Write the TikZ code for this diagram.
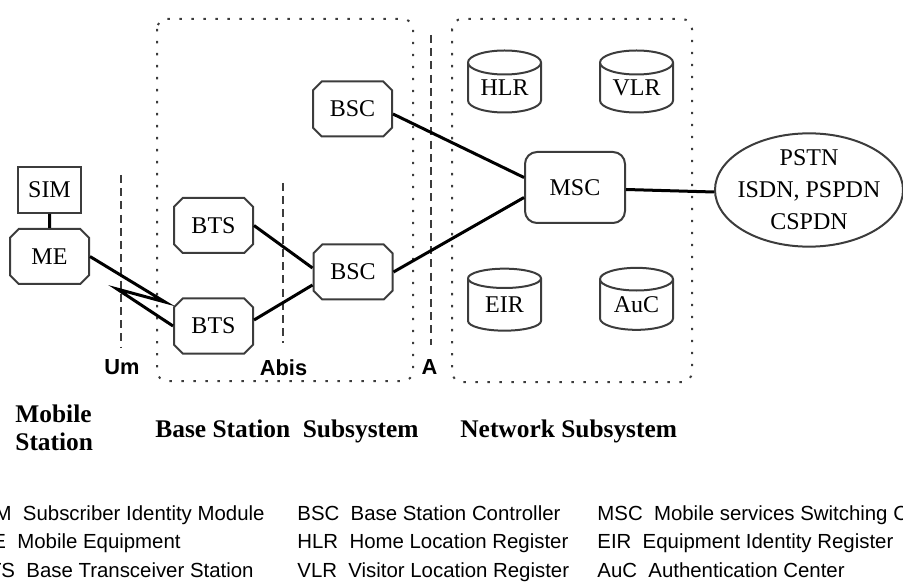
\documentclass[tikz,border=0pt]{standalone}
\usepackage{fontspec}
\setmainfont{Liberation Serif}
\setsansfont{Liberation Sans}
\usepackage{tikz}
\usetikzlibrary{shapes.misc, shapes.geometric}
\definecolor{gsmGray}{HTML}{3C3C3C}
\definecolor{gsmBlack}{HTML}{000000}
\newcommand{\unitfont}{\fontsize{12}{16}\selectfont}
\newcommand{\keyfont}{\sffamily\fontsize{10.2}{12}\selectfont}
\newcommand{\headfont}{\bfseries\fontsize{12.7}{14}\selectfont}

\begin{document}
\begin{tikzpicture}[
  x=0.5pt, y=-0.5pt,
  unit/.style={
    chamfered rectangle, chamfered rectangle xsep=2.2pt, chamfered rectangle ysep=2.2pt,
    draw=gsmGray, line width=1pt,
    minimum width=39.5pt, minimum height=27.5pt, inner sep=0pt,
    font=\unitfont
  },
  card/.style={
    rectangle, draw=gsmGray, line width=1pt,
    minimum width=31.5pt, minimum height=23pt, inner sep=0pt,
    font=\unitfont
  },
  switch/.style={
    rectangle, rounded corners=6pt, draw=gsmGray, line width=1pt,
    minimum width=50pt, minimum height=35.5pt, inner sep=0pt,
    font=\unitfont
  },
  db/.style={
    cylinder, shape border rotate=90, aspect=0.5,
    draw=gsmGray, line width=1pt,
    minimum width=36.5pt, minimum height=31pt, inner sep=0pt,
    font=\unitfont
  },
  cloud/.style={
    ellipse, draw=gsmGray, line width=1pt,
    minimum width=94pt, minimum height=55pt, inner xsep=-8pt, inner ysep=0pt,
    align=center, font=\unitfont
  },
  link/.style={gsmBlack, line width=1.5pt},
  iface/.style={gsmGray, line width=1pt, dash pattern=on 4pt off 2.6pt},
  subsys/.style={gsmGray, line width=1pt, dash pattern=on 1.2pt off 4.8pt, rounded corners=5pt},
  ifacelbl/.style={font=\sffamily\bfseries\fontsize{10.9}{12}\selectfont},
  head/.style={font=\headfont, align=left, inner sep=0pt},
  key/.style={font=\keyfont, anchor=base west, inner sep=0pt},
]

\useasboundingbox (0,0) rectangle (903,582);
\clip (0,0) rectangle (903,582);

% === SUBSYSTEM FRAMES ===
\draw[subsys] (157,19) rectangle (413,381);
\draw[subsys] (452,19) rectangle (692,382);

% interfaces
\draw[iface] (121,175) -- (121,347);
\draw[iface] (283,183) -- (283,343);
\draw[iface] (431,35) -- (431,345);

\node[ifacelbl] (um) at (122,367.5) {Um};
\node[ifacelbl] (abis) at (283.5,367.5) {Abis};
\node[ifacelbl] (a) at (429.5,367.5) {A};

% === MOBILE STATION ===
\node[card] (sim) at (49.5,190) {SIM};
\node[unit] (me) at (49.5,256.5) {ME};
\draw[link] (sim) -- (me);

% === BASE STATION SUBSYSTEM ===
\node[unit] (bts1) at (213.5,225.5) {BTS};
\node[unit] (bts2) at (213.5,326) {BTS};
\node[unit] (bsc1) at (352.5,109) {BSC};
\node[unit] (bsc2) at (353,272) {BSC};

% radio link (lightning)
\coordinate (bolt-a) at (165,302);
\coordinate (bolt-b) at (117,289);
\draw[link, line join=miter] (me.east) -- (bolt-a) -- (bolt-b) -- (bts2.west);

\draw[link] (bts1.east) -- ([yshift=2pt]bsc2.west);
\draw[link] ([yshift=3pt]bts2.east) -- ([yshift=-6.5pt]bsc2.west);

% === NETWORK SUBSYSTEM ===
\node[switch] (msc) at (575,187.5) {MSC};
\node[db] (hlr) at (504.5,88) {HLR};
\node[db] (vlr) at (636.5,88) {VLR};
\node[db] (eir) at (504.5,305) {EIR};
\node[db] (auc) at (636.5,305) {AuC};

\draw[link] ([yshift=-2.5pt]bsc1.east) -- ([yshift=5pt]msc.west);
\draw[link] (bsc2.east) -- ([yshift=-5pt]msc.west);

\node[cloud] (pstn) at (809,190) {PSTN\\ISDN, PSPDN\\CSPDN};
\draw[link] ([yshift=-1pt]msc.east) -- ([yshift=-1pt]pstn.west);

% === HEADINGS ===
\node[head, anchor=west] (ms-head) at (15,428) {Mobile\\Station};
\node[head, anchor=base west] (bss-head) at (155,437) {Base Station~~Subsystem};
\node[head, anchor=base west] (nss-head) at (460,437) {Network Subsystem};

% === KEY ===
\node[key] (k-sim) at (-25,520) {SIM~~Subscriber Identity Module};
\node[key] (k-me) at (-25,548) {ME~~Mobile Equipment};
\node[key] (k-bts) at (-25,577) {BTS~~Base Transceiver Station};
\node[key] (k-bsc) at (297,520) {BSC~~Base Station Controller};
\node[key] (k-hlr) at (297,548) {HLR~~Home Location Register};
\node[key] (k-vlr) at (297,577) {VLR~~Visitor Location Register};
\node[key] (k-msc) at (597,520) {MSC~~Mobile services Switching Center};
\node[key] (k-eir) at (597,548) {EIR~~Equipment Identity Register};
\node[key] (k-auc) at (597,577) {AuC~~Authentication Center};

\end{tikzpicture}
\end{document}
